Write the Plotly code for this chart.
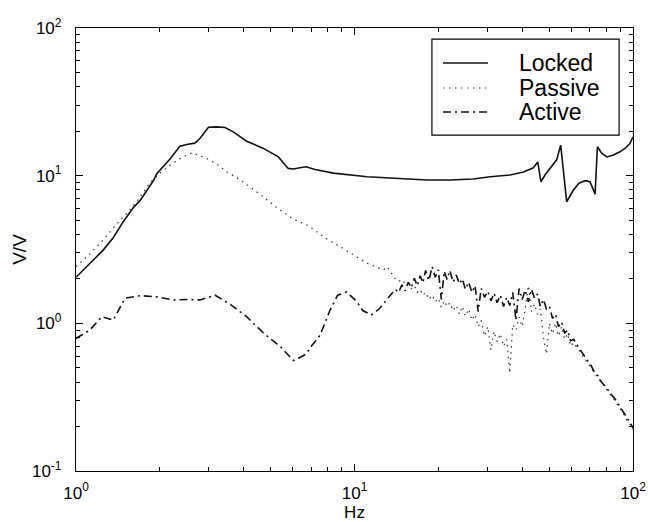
import plotly.graph_objects as go

# ---------------- data ----------------
locked_hz = [1.0, 1.12, 1.25, 1.36, 1.48, 1.61, 1.70, 1.90, 1.95, 2.18, 2.36, 2.52, 2.67,
             2.79, 2.99, 3.20, 3.43, 3.67, 4.10, 4.71, 5.33, 5.78, 6.05, 6.37, 6.70,
             7.21, 8.40, 11.1, 14.6, 18.2, 22.0, 26.7, 30.7, 33.3, 36.2, 40.4, 43.9,
             45.5, 46.7, 48.3, 51.7, 53.2, 55.0, 56.5, 57.8, 61.1, 64.0, 67.3, 70.1,
             73.1, 74.5, 77.2, 80.5, 85.0, 89.8, 94.0, 97.5, 100.0]
locked_vv = [2.05, 2.55, 3.12, 3.80, 4.90, 6.10, 6.80, 9.30, 10.3, 13.0, 15.8, 16.3, 16.6,
             17.9, 21.3, 21.4, 21.2, 19.8, 17.1, 15.3, 13.4, 11.2, 11.1, 11.3, 11.5,
             11.0, 10.4, 9.84, 9.59, 9.34, 9.34, 9.50, 9.84, 10.0, 10.1, 10.6, 11.3,
             12.4, 9.10, 10.1, 11.8, 12.8, 16.1, 10.4, 6.66, 8.0, 8.9, 9.25, 9.10,
             7.50, 15.7, 14.2, 13.4, 13.8, 14.5, 15.4, 16.5, 18.3]

passive_hz = [1.0, 1.12, 1.25, 1.40, 1.56, 1.70, 1.84, 2.0, 2.18, 2.40, 2.62, 2.94, 3.20,
              3.48, 3.88, 4.30, 4.70, 5.30, 6.00, 6.80, 7.50, 8.00, 8.90, 10.0, 11.1,
              12.0, 12.7, 13.1, 13.5,
              14.0, 14.4, 14.8, 15.2, 15.6, 16.0, 16.4, 16.8, 17.2, 17.6, 18.0, 18.5,
              19.0, 19.5, 20.0, 20.5, 21.0, 21.5, 22.0, 22.6, 23.2, 23.8, 24.4, 25.0,
              25.7, 26.4, 27.1, 27.8, 28.5, 29.3, 30.1, 30.9, 31.7, 32.5, 33.4, 34.3,
              35.2, 36.1, 37.0, 38.0, 39.0, 40.0, 41.0, 42.1, 43.2, 44.3, 45.4, 46.5,
              47.7, 48.9, 50.1, 51.4, 52.7, 54.0, 55.4, 56.8, 58.2, 59.7, 61.2,
              63.0, 65.0, 67.0, 69.0, 71.0, 73.0, 75.0, 77.0, 80.0, 83.0, 86.0, 89.0,
              92.0, 95.0, 98.0, 100.0]
passive_vv = [2.42, 2.95, 3.66, 4.70, 5.85, 7.20, 8.90, 10.4, 11.8, 13.3, 14.3, 13.1, 12.0,
              10.6, 9.40, 8.20, 7.20, 6.00, 5.10, 4.60, 4.00, 3.70, 3.30, 2.90, 2.55,
              2.40, 2.30, 2.42, 2.20,
              2.00, 1.92, 1.98, 1.85, 1.88, 1.72, 1.80, 1.62, 1.70, 1.55, 1.62, 1.45,
              1.55, 1.40, 1.48, 1.28, 1.42, 1.30, 1.38, 1.22, 1.32, 1.15, 1.30, 1.12,
              1.25, 1.05, 1.15, 0.95, 1.05, 0.82, 0.95, 0.66, 0.88, 0.75, 0.85, 0.70,
              0.78, 0.46, 0.98, 0.90, 1.10, 0.95, 1.25, 1.80, 1.20, 1.35, 1.15, 1.25,
              0.80, 0.62, 1.00, 0.85, 1.00, 0.82, 0.95, 0.78, 0.85, 0.70, 0.74,
              0.68, 0.63, 0.57, 0.54, 0.49, 0.46, 0.42, 0.40, 0.36, 0.33, 0.30, 0.27,
              0.25, 0.22, 0.205, 0.19]

active_hz = [1.0, 1.12, 1.24, 1.36, 1.50, 1.70, 1.95, 2.24, 2.50, 2.79, 3.16, 3.57, 4.10,
             4.71, 5.40, 6.03, 6.40, 6.70, 7.00, 7.52, 8.17, 8.70, 9.37, 10.2, 10.7,
             11.5, 12.3, 13.4,
             14.0, 14.4, 14.8, 15.2, 15.6, 16.0, 16.4, 16.8, 17.2, 17.6, 18.0, 18.5,
             19.0, 19.5, 20.0, 20.5, 21.0, 21.5, 22.0, 22.6, 23.2, 23.8, 24.4, 25.0,
             25.7, 26.4, 27.1, 27.8, 28.5, 29.3, 30.1, 30.9, 31.7, 32.5, 33.4, 34.3,
             35.2, 36.1, 37.0, 38.0, 39.0, 40.0, 41.0, 42.1, 43.2, 44.3, 45.4, 46.5,
             47.7, 48.9, 50.1, 51.4, 52.7, 54.0, 55.4, 56.8, 58.2, 59.7, 61.2,
             63.0, 65.0, 67.0, 69.0, 71.0, 73.0, 75.0, 77.0, 80.0, 83.0, 86.0, 89.0,
             92.0, 95.0, 98.0, 100.0]
active_vv = [0.79, 0.90, 1.11, 1.05, 1.48, 1.54, 1.51, 1.44, 1.45, 1.44, 1.55, 1.35, 1.11,
             0.86, 0.70, 0.56, 0.59, 0.62, 0.70, 0.83, 1.23, 1.55, 1.63, 1.40, 1.22,
             1.14, 1.26, 1.55,
             1.70, 1.62, 1.82, 1.66, 1.90, 1.74, 2.02, 1.80, 2.10, 1.88, 2.28, 1.95,
             2.42, 2.05, 2.30, 1.45, 2.25, 1.98, 2.28, 1.90, 2.12, 1.85, 2.00, 1.70,
             1.90, 1.62, 1.80, 1.20, 1.72, 1.50, 1.65, 1.42, 1.60, 1.38, 1.55, 1.30,
             1.50, 1.32, 1.62, 1.05, 1.72, 1.45, 1.68, 1.40, 1.70, 1.48, 1.58, 1.30,
             1.45, 1.25, 1.30, 1.08, 1.15, 0.95, 1.02, 0.86, 0.90, 0.76, 0.78,
             0.71, 0.65, 0.59, 0.55, 0.51, 0.46, 0.44, 0.40, 0.37, 0.335, 0.31, 0.28,
             0.255, 0.23, 0.21, 0.195]

series_names = ["Locked", "Passive", "Active"]

x_tickvals = [1, 10, 100]
x_ticktext = ["10<sup>0</sup>", "10<sup>1</sup>", "10<sup>2</sup>"]
y_tickvals = [0.1, 1, 10, 100]
y_ticktext = ["10<sup>-1</sup>", "10<sup>0</sup>", "10<sup>1</sup>", "10<sup>2</sup>"]

FONT = "Liberation Sans, Arial, sans-serif"
styles = [dict(color="#111111", width=1.6, dash="solid"),
          dict(color="#333333", width=1.2, dash="1.5px,4.5px"),
          dict(color="#111111", width=1.6, dash="8px,4px,2px,4px")]

fig = go.Figure()
for name, xs, ys, st in zip(series_names, [locked_hz, passive_hz, active_hz],
                            [locked_vv, passive_vv, active_vv], styles):
    fig.add_trace(go.Scatter(x=xs, y=ys, mode="lines", name=name, line=st,
                             showlegend=False))

minor_x = [m * d for d in (1, 10) for m in range(2, 10)]
minor_y = [m * d for d in (0.1, 1, 10) for m in range(2, 10)]

axis_common = dict(
    type="log", showgrid=False, zeroline=False,
    showline=True, linecolor="black", linewidth=1.3, mirror="ticks",
    ticks="inside", ticklen=7, tickwidth=1, tickcolor="black",
    tickfont=dict(family=FONT, size=17, color="black"),
)

fig.update_xaxes(range=[0, 2], tickmode="array", tickvals=x_tickvals, ticktext=x_ticktext,
                 ticklabelstandoff=6,
                 minor=dict(ticks="inside", ticklen=4, tickwidth=1, tickcolor="black",
                            showgrid=False, tickmode="array", tickvals=minor_x),
                 title=dict(text="Hz", font=dict(family=FONT, size=17, color="black"), standoff=2),
                 **axis_common)
fig.update_yaxes(range=[-1, 2], tickmode="array", tickvals=y_tickvals, ticktext=y_ticktext,
                 ticklabelstandoff=10,
                 minor=dict(ticks="inside", ticklen=4, tickwidth=1, tickcolor="black",
                            showgrid=False, tickmode="array", tickvals=minor_y),
                 title=dict(text="V/V", font=dict(family=FONT, size=19, color="black"), standoff=0),
                 **axis_common)

# legend box drawn in paper space (keys + labels)
LX0, LX1, LTX = 0.6589, 0.7397, 0.7917
LYS = [0.9210, 0.8646, 0.8104]
shapes = [dict(type="rect", xref="paper", yref="paper", x0=0.639, x1=0.975,
               y0=0.758, y1=0.975, line=dict(color="black", width=1.2),
               fillcolor="white", layer="above")]
annotations = []
for name, st, ly in zip(series_names, styles, LYS):
    shapes.append(dict(type="line", xref="paper", yref="paper", x0=LX0, x1=LX1, y0=ly, y1=ly,
                       line=st, layer="above"))
    annotations.append(dict(text=name, xref="paper", yref="paper", x=LTX, y=ly,
                            xanchor="left", yanchor="middle", showarrow=False,
                            font=dict(family=FONT, size=23, color="black")))

fig.update_layout(
    width=648, height=522,
    margin=dict(l=76, r=15, t=28, b=51, autoexpand=False),
    paper_bgcolor="white", plot_bgcolor="white",
    showlegend=False,
    shapes=shapes, annotations=annotations,
)

fig.write_html("out.html")
